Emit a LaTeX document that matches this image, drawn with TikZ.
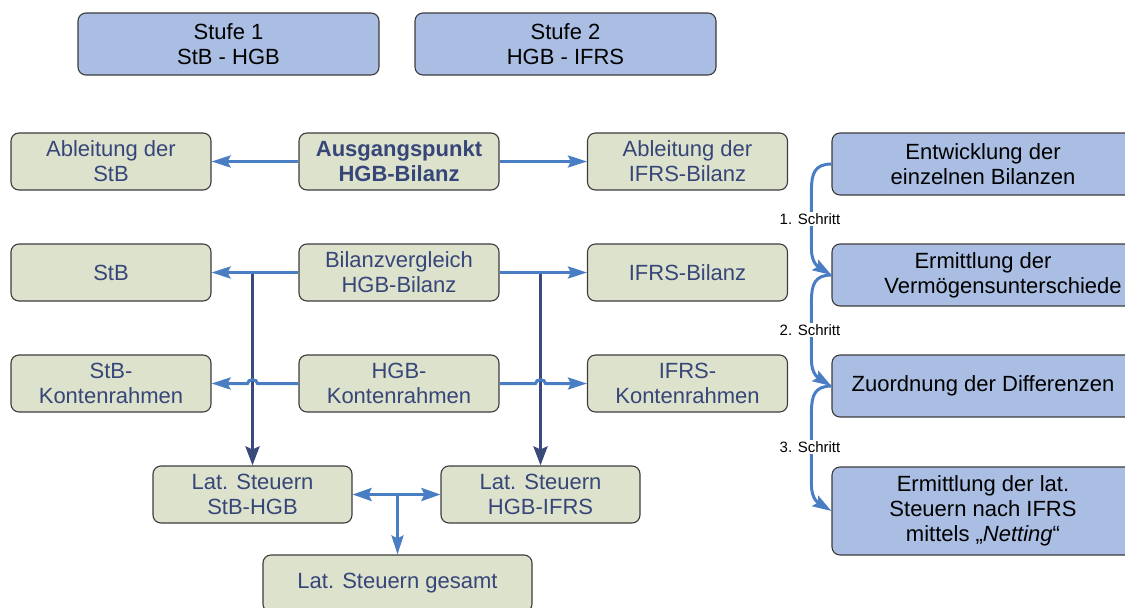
\documentclass[tikz,border=0pt]{standalone}
\usepackage{fontspec}
\setmainfont{Liberation Sans}
\usetikzlibrary{arrows.meta,calc}
\definecolor{gfill}{RGB}{221,226,204}
\definecolor{bfill}{RGB}{169,190,226}
\definecolor{bordc}{RGB}{60,60,60}
\definecolor{navytxt}{RGB}{55,70,120}
\definecolor{arrblue}{RGB}{74,126,196}
\definecolor{darknavy}{RGB}{58,74,122}
\tikzset{
  box/.style={draw=bordc, line width=1.1pt, rounded corners=8pt, inner sep=0pt, align=center,
    font=\fontsize{22}{25}\selectfont},
  gbox/.style={box, fill=gfill, text=navytxt, minimum width=200pt, minimum height=57pt},
  bbox/.style={box, fill=bfill, text=black},
  bluearrow/.style={draw=arrblue, line width=3pt, -{Stealth[length=19pt,width=12pt,inset=3pt]}},
  bluedouble/.style={draw=arrblue, line width=3pt, {Stealth[length=19pt,width=13pt,inset=3pt]}-{Stealth[length=19pt,width=13pt,inset=3pt]}},
  darkarrow/.style={draw=darknavy, line width=3.2pt, -{Stealth[length=19pt,width=14pt,inset=3pt]}},
  steplabel/.style={fill=white, inner sep=1pt, text=black, font=\fontsize{15}{17}\selectfont},
}
\begin{document}
\begin{tikzpicture}[x=1pt,y=-1pt]
\useasboundingbox (0,0) rectangle (1125,608);
% top stage boxes
\node[bbox, minimum width=301pt, minimum height=62pt] (s1) at (228.5,44) {Stufe 1\\StB - HGB};
\node[bbox, minimum width=301pt, minimum height=62pt] (s2) at (565.5,44) {Stufe 2\\HGB - IFRS};
% green grid
\node[gbox] (ablStB) at (111,161.5) {Ableitung der\\StB};
\node[gbox, font=\fontsize{22}{25}\selectfont\bfseries] (aus) at (399,161.5) {Ausgangspunkt\\HGB-Bilanz};
\node[gbox] (ablIFRS) at (687.5,161.5) {Ableitung der\\IFRS-Bilanz};
\node[gbox] (stb) at (111,272.5) {StB};
\node[gbox] (bil) at (399,272.5) {Bilanzvergleich\\HGB-Bilanz};
\node[gbox] (ifrs) at (687.5,272.5) {IFRS-Bilanz};
\node[gbox] (stbK) at (111,383.5) {StB-\\Kontenrahmen};
\node[gbox] (hgbK) at (399,383.5) {HGB-\\Kontenrahmen};
\node[gbox] (ifrsK) at (687.5,383.5) {IFRS-\\Kontenrahmen};
\node[gbox, minimum width=199pt] (latA) at (252.5,494.5) {Lat. Steuern\\StB-HGB};
\node[gbox, minimum width=199pt] (latB) at (540.5,494.5) {Lat. Steuern\\HGB-IFRS};
\node[gbox, minimum width=269pt] (ges) at (397.5,583.5) {Lat. Steuern gesamt};
% right steps
\node[bbox, minimum width=302pt, minimum height=62pt] (r1) at (983,164) {Entwicklung der\\einzelnen Bilanzen};
\node[bbox, minimum width=302pt, minimum height=62pt] (r2) at (983,275) {Ermittlung der\\\hspace*{40pt}Vermögensunterschiede};
\node[bbox, minimum width=302pt, minimum height=62pt] (r3) at (983,386) {Zuordnung der Differenzen};
\node[bbox, minimum width=302pt, minimum height=88pt] (r4) at (983,511) {Ermittlung der lat.\\Steuern nach IFRS\\mittels „\textit{Netting}“};
% dark vertical arrows
\coordinate (jL) at (latA.north |- bil.west);
\coordinate (jR) at (latB.north |- bil.east);
\draw[darkarrow] (jL) -- (latA.north);
\draw[darkarrow] (jR) -- (latB.north);
% row 1 and 2 arrows
\draw[bluearrow] (aus.west) -- (ablStB.east);
\draw[bluearrow] (aus.east) -- (ablIFRS.west);
\draw[bluearrow] (bil.west) -- (stb.east);
\draw[bluearrow] (bil.east) -- (ifrs.west);
% row 3 arrows with hops
\coordinate (hL) at (latA.north |- hgbK.west);
\coordinate (hR) at (latB.north |- hgbK.east);
\draw[bluearrow] (hgbK.west) -- ($(hL)+(5,0)$) .. controls ($(hL)+(5,-5)$) and ($(hL)+(-5,-5)$) .. ($(hL)+(-5,0)$) -- (stbK.east);
\draw[bluearrow] (hgbK.east) -- ($(hR)+(-5,0)$) .. controls ($(hR)+(-5,-5)$) and ($(hR)+(5,-5)$) .. ($(hR)+(5,0)$) -- (ifrsK.west);
% bottom arrows
\draw[bluedouble] (latA.east) -- (latB.west);
\coordinate (jB) at (ges.north |- latA.east);
\draw[bluearrow] (jB) -- (ges.north);
% curved step arrows
\foreach \a/\b in {r1/r2, r2/r3, r3/r4}{
  \draw[bluearrow] (\a.west) .. controls ($(\a.west)+(-17,0)$) and ($(\a.west)+(-20,10)$) .. ($(\a.west)+(-20,26)$)
     -- ($(\b.west)+(-20,-26)$) .. controls ($(\b.west)+(-20,-12)$) and ($(\b.west)+(-13,-8)$) .. (\b.west);
}
\node[steplabel] (l1) at (810,219) {1. Schritt};
\node[steplabel] (l2) at (810,330) {2. Schritt};
\node[steplabel] (l3) at (810,447) {3. Schritt};
\end{tikzpicture}
\end{document}
